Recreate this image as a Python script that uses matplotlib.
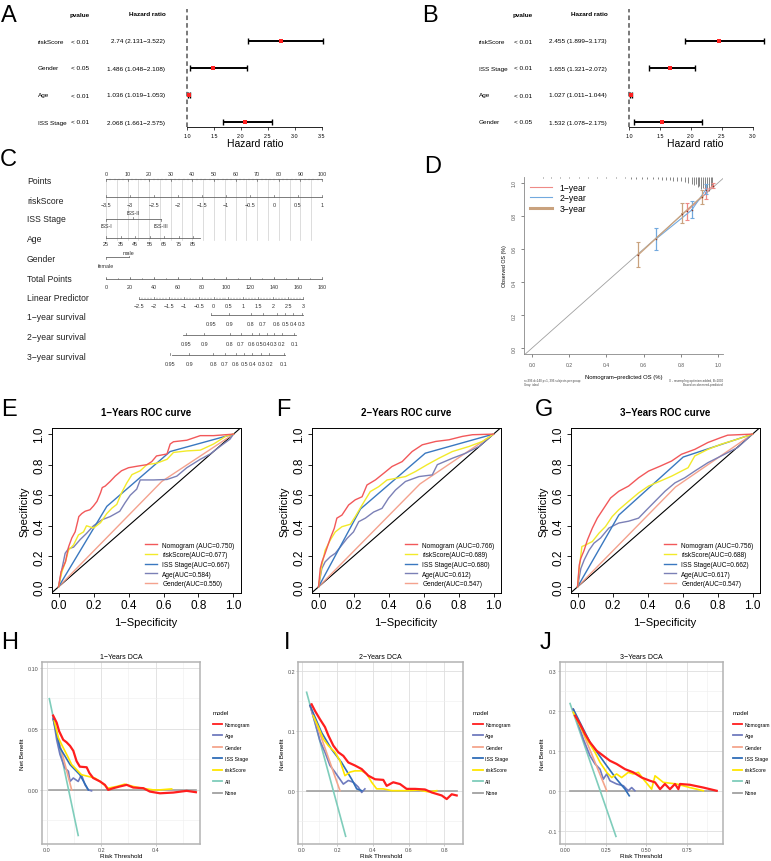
import matplotlib.pyplot as plt
from matplotlib.lines import Line2D
import numpy as np

plt.rcParams['font.family'] = ['Liberation Sans', 'DejaVu Sans']

W, H = 771, 862

# ---------------- data ----------------
# A / B : multivariate / univariate cox
a_vars = ['riskScore', 'Gender', 'Age', 'ISS Stage']
a_pval = ['< 0.01', '< 0.05', '< 0.01', '< 0.01']
a_hr = [2.74, 1.486, 1.036, 2.068]
a_lo = [2.131, 1.048, 1.019, 1.661]
a_hi = [3.522, 2.108, 1.053, 2.575]
a_ticks = [1.0, 1.5, 2.0, 2.5, 3.0, 3.5]

b_vars = ['riskScore', 'ISS Stage', 'Age', 'Gender']
b_pval = ['< 0.01', '< 0.01', '< 0.01', '< 0.05']
b_hr = [2.455, 1.655, 1.027, 1.532]
b_lo = [1.899, 1.321, 1.011, 1.078]
b_hi = [3.173, 2.072, 1.044, 2.175]
b_ticks = [1.0, 1.5, 2.0, 2.5, 3.0]

# C : nomogram (positions on the 0-100 points scale)
pts_ticks = [0, 10, 20, 30, 40, 50, 60, 70, 80, 90, 100]
risk_ticks = [-3.5, -3, -2.5, -2, -1.5, -1, -0.5, 0, 0.5, 1]
iss_levels = ['ISS-I', 'ISS-II', 'ISS-III']
iss_points = [0, 12.5, 25.5]
age_ticks = [25, 35, 45, 55, 65, 75, 85]
age_pts_per_year = 0.672
age_max_pts = 43.5
gender_levels = ['female', 'male']
gender_points = [0, 10.5]
total_ticks = [0, 20, 40, 60, 80, 100, 120, 140, 160, 180]
lp_ticks = [-2.5, -2, -1.5, -1, -0.5, 0, 0.5, 1, 1.5, 2, 2.5, 3]
lp_zero_pts = 15.3
lp_pts_per_unit = 13.8
surv1_vals = [0.95, 0.9, 0.8, 0.7, 0.6, 0.5, 0.4, 0.3]
surv1_pts = [48.5, 57.0, 67.0, 72.5, 79.0, 82.9, 86.7, 90.6]
surv2_vals = [0.95, 0.9, 0.8, 0.7, 0.6, 0.5, 0.4, 0.3, 0.2, 0.1]
surv2_pts = [37.0, 45.4, 57.4, 62.4, 67.4, 71.0, 74.4, 77.8, 81.3, 87.2]
surv3_vals = [0.95, 0.9, 0.8, 0.7, 0.6, 0.5, 0.4, 0.3, 0.2, 0.1]
surv3_pts = [29.6, 38.6, 49.7, 55.1, 60.2, 64.0, 67.7, 71.8, 75.6, 82.4]

# D : calibration
cal1_x = [0.836, 0.935, 0.971]
cal1_y = [0.832, 0.937, 0.984]
cal1_lo = [0.776, 0.902, 0.970]
cal1_hi = [0.877, 0.970, 1.000]
cal2_x = [0.667, 0.859, 0.935]
cal2_y = [0.661, 0.836, 0.960]
cal2_lo = [0.594, 0.790, 0.933]
cal2_hi = [0.725, 0.891, 0.994]
cal3_x = [0.571, 0.809, 0.912]
cal3_y = [0.564, 0.812, 0.917]
cal3_lo = [0.493, 0.757, 0.872]
cal3_hi = [0.640, 0.876, 0.958]
rug_x = [0.06, 0.10, 0.15, 0.20, 0.25, 0.30, 0.35, 0.40, 0.45, 0.50, 0.53, 0.56,
         0.59, 0.62, 0.65, 0.68, 0.70, 0.72, 0.74, 0.76, 0.78, 0.80, 0.82, 0.84,
         0.86, 0.87, 0.88, 0.89, 0.90, 0.91, 0.92, 0.93, 0.94, 0.95, 0.96, 0.97]
rug_h = [0.005, 0.005, 0.006, 0.005, 0.006, 0.006, 0.007, 0.006, 0.008, 0.008, 0.01, 0.01,
         0.012, 0.012, 0.015, 0.014, 0.018, 0.016, 0.02, 0.022, 0.025, 0.024, 0.03, 0.035,
         0.04, 0.05, 0.045, 0.06, 0.055, 0.07, 0.065, 0.08, 0.07, 0.085, 0.06, 0.05]

# E-G : ROC curves (fpr, tpr)
e_nomo = [(0, 0), (0.015, 0.1), (0.04, 0.165), (0.057, 0.26), (0.076, 0.32), (0.095, 0.36),
          (0.11, 0.43), (0.116, 0.46), (0.133, 0.48), (0.152, 0.495), (0.18, 0.505), (0.2, 0.53),
          (0.22, 0.56), (0.24, 0.615), (0.25, 0.65), (0.267, 0.66), (0.295, 0.69), (0.324, 0.725),
          (0.36, 0.76), (0.4, 0.78), (0.45, 0.79), (0.505, 0.8), (0.533, 0.82), (0.56, 0.857),
          (0.62, 0.87), (0.638, 0.935), (0.657, 0.95), (0.733, 0.96), (0.81, 0.99), (0.886, 0.99), (1, 1)]
e_risk = [(0, 0), (0.02, 0.1), (0.04, 0.165), (0.057, 0.24), (0.086, 0.275), (0.114, 0.34),
          (0.143, 0.36), (0.16, 0.4), (0.2, 0.385), (0.24, 0.42), (0.276, 0.48), (0.305, 0.515),
          (0.333, 0.54), (0.36, 0.615), (0.39, 0.68), (0.42, 0.735), (0.467, 0.76), (0.505, 0.8),
          (0.562, 0.81), (0.62, 0.835), (0.657, 0.88), (0.733, 0.89), (0.81, 0.895), (0.886, 0.935),
          (0.962, 0.99), (1, 1)]
e_iss = [(0, 0), (0.276, 0.527), (0.638, 0.886), (1, 1)]
e_age = [(0, 0), (0.02, 0.12), (0.038, 0.22), (0.057, 0.25), (0.086, 0.26), (0.124, 0.31),
         (0.16, 0.35), (0.2, 0.4), (0.25, 0.44), (0.295, 0.46), (0.35, 0.495), (0.38, 0.55),
         (0.41, 0.6), (0.447, 0.64), (0.467, 0.7), (0.543, 0.7), (0.62, 0.703), (0.676, 0.725),
         (0.733, 0.78), (0.81, 0.835), (0.867, 0.87), (0.924, 0.92), (0.98, 0.967), (1, 1)]
e_gender = [(0, 0), (0.59, 0.69), (1, 1)]
e_auc = ['0.750', '0.677', '0.667', '0.584', '0.550']

f_nomo = [(0, 0), (0.01, 0.12), (0.02, 0.165), (0.038, 0.22), (0.067, 0.317), (0.09, 0.383),
          (0.105, 0.45), (0.134, 0.47), (0.172, 0.536), (0.21, 0.57), (0.249, 0.59), (0.277, 0.667),
          (0.325, 0.7), (0.373, 0.744), (0.42, 0.788), (0.478, 0.82), (0.535, 0.886), (0.593, 0.93),
          (0.67, 0.952), (0.746, 0.963), (0.822, 0.985), (0.88, 0.996), (1, 1)]
f_risk = [(0, 0), (0.019, 0.142), (0.038, 0.24), (0.067, 0.306), (0.096, 0.36), (0.134, 0.394),
          (0.182, 0.41), (0.21, 0.46), (0.249, 0.536), (0.296, 0.624), (0.344, 0.656), (0.392, 0.7),
          (0.44, 0.71), (0.497, 0.722), (0.554, 0.755), (0.621, 0.8), (0.688, 0.842), (0.765, 0.886),
          (0.86, 0.919), (0.937, 0.952), (1, 1)]
f_iss = [(0, 0), (0.24, 0.51), (0.61, 0.875), (1, 1)]
f_age = [(0, 0), (0.019, 0.12), (0.038, 0.164), (0.067, 0.197), (0.096, 0.22), (0.124, 0.26),
         (0.163, 0.317), (0.2, 0.36), (0.23, 0.427), (0.268, 0.45), (0.315, 0.49), (0.363, 0.514),
         (0.4, 0.58), (0.44, 0.634), (0.497, 0.69), (0.574, 0.722), (0.65, 0.733), (0.679, 0.8),
         (0.765, 0.842), (0.841, 0.875), (0.918, 0.92), (1, 1)]
f_gender = [(0, 0), (0.58, 0.674), (1, 1)]
f_auc = ['0.766', '0.689', '0.680', '0.612', '0.547']

g_nomo = [(0, 0), (0.01, 0.143), (0.019, 0.187), (0.038, 0.24), (0.057, 0.308), (0.085, 0.385),
          (0.113, 0.45), (0.151, 0.516), (0.189, 0.582), (0.236, 0.626), (0.292, 0.66), (0.349, 0.714),
          (0.406, 0.758), (0.472, 0.79), (0.538, 0.824), (0.594, 0.868), (0.67, 0.9), (0.745, 0.945),
          (0.821, 0.978), (0.858, 0.993), (1, 1)]
g_risk = [(0, 0), (0.01, 0.12), (0.025, 0.264), (0.047, 0.275), (0.085, 0.297), (0.123, 0.352),
          (0.16, 0.395), (0.198, 0.46), (0.236, 0.505), (0.292, 0.56), (0.349, 0.615), (0.406, 0.66),
          (0.472, 0.692), (0.538, 0.725), (0.594, 0.758), (0.632, 0.78), (0.67, 0.857), (0.745, 0.9),
          (0.821, 0.934), (0.915, 0.967), (1, 1)]
g_iss = [(0, 0), (0.236, 0.47), (0.604, 0.85), (1, 1)]
g_age = [(0, 0), (0.019, 0.12), (0.038, 0.176), (0.066, 0.24), (0.094, 0.286), (0.132, 0.32),
         (0.179, 0.385), (0.236, 0.418), (0.292, 0.43), (0.349, 0.45), (0.387, 0.495), (0.443, 0.56),
         (0.5, 0.626), (0.557, 0.681), (0.613, 0.714), (0.67, 0.758), (0.745, 0.813), (0.821, 0.857),
         (0.915, 0.912), (1, 1)]
g_gender = [(0, 0), (0.56, 0.654), (1, 1)]
g_auc = ['0.756', '0.688', '0.662', '0.617', '0.547']

roc_names = ['Nomogram ', 'riskScore', 'ISS Stage', 'Age', 'Gender']
roc_colors = ['#F2585A', '#F2EA2A', '#3A78C0', '#7B80B6', '#F4A28E']

# H-J : decision curves (threshold, net benefit)
h_nomo = [(0.024, 0.0608), (0.037, 0.055), (0.046, 0.048), (0.061, 0.041), (0.073, 0.039),
          (0.086, 0.036), (0.098, 0.032), (0.11, 0.0235), (0.122, 0.019), (0.147, 0.0185),
          (0.157, 0.0138), (0.171, 0.0097), (0.196, 0.0069), (0.214, 0.0041), (0.226, 0.0),
          (0.245, 0.0014), (0.269, 0.0028), (0.294, 0.0041), (0.318, 0.0019), (0.355, 0.0014),
          (0.379, -0.0014), (0.416, -0.0028), (0.465, -0.0022), (0.514, -0.0008), (0.548, -0.0019)]
h_age = [(0.024, 0.0594), (0.037, 0.041), (0.049, 0.029), (0.067, 0.018), (0.08, 0.0152),
         (0.086, 0.0069), (0.098, 0.0097), (0.116, 0.0069), (0.128, 0.0124), (0.141, 0.0041),
         (0.153, 0.0), (0.165, -0.0008)]
h_gender = [(0.024, 0.058), (0.092, 0.0)]
h_iss = [(0.024, 0.058), (0.049, 0.0345), (0.086, 0.0207), (0.122, 0.0124), (0.153, 0.0)]
h_risk = [(0.028, 0.0566), (0.043, 0.0428), (0.061, 0.0345), (0.08, 0.0262), (0.092, 0.0207),
          (0.104, 0.018), (0.128, 0.0124), (0.153, 0.011), (0.177, 0.0097), (0.196, 0.0069),
          (0.226, 0.0014), (0.257, 0.0028), (0.287, 0.0047), (0.318, 0.0028), (0.349, 0.0014),
          (0.391, 0.0), (0.416, 0.0), (0.459, 0.0008)]
h_all = [(0.01, 0.0746), (0.116, -0.0373)]
h_none = [(0.01, 0.0), (0.548, 0.0)]

i_nomo = [(0.056, 0.144), (0.075, 0.133), (0.103, 0.119), (0.131, 0.106), (0.15, 0.092),
          (0.178, 0.075), (0.206, 0.064), (0.234, 0.058), (0.262, 0.047), (0.299, 0.042),
          (0.337, 0.036), (0.374, 0.025), (0.412, 0.019), (0.458, 0.018), (0.477, 0.008),
          (0.514, 0.014), (0.552, 0.011), (0.589, 0.003), (0.636, 0.003), (0.692, 0.002),
          (0.73, -0.003), (0.786, -0.008), (0.814, -0.014), (0.842, -0.006), (0.87, -0.008)]
i_age = [(0.047, 0.142), (0.075, 0.114), (0.103, 0.083), (0.131, 0.064), (0.159, 0.042),
         (0.187, 0.031), (0.215, 0.019), (0.234, 0.011), (0.262, 0.017), (0.29, 0.014),
         (0.318, 0.006), (0.337, -0.003), (0.355, 0.003)]
i_gender = [(0.047, 0.142), (0.215, 0.0)]
i_iss = [(0.047, 0.142), (0.112, 0.097), (0.168, 0.069), (0.224, 0.047), (0.281, 0.019),
         (0.309, 0.003), (0.337, 0.0)]
i_risk = [(0.065, 0.125), (0.094, 0.106), (0.122, 0.086), (0.15, 0.075), (0.187, 0.064),
          (0.215, 0.05), (0.243, 0.025), (0.271, 0.031), (0.299, 0.033), (0.337, 0.033),
          (0.365, 0.028), (0.393, 0.014), (0.421, 0.003), (0.458, 0.003), (0.505, 0.0),
          (0.58, 0.0), (0.655, 0.001), (0.711, -0.002), (0.758, 0.0)]
i_all = [(0.028, 0.164), (0.247, -0.076)]
i_none = [(0.028, 0.0), (0.87, 0.0)]

j_nomo = [(0.062, 0.1875), (0.092, 0.167), (0.123, 0.142), (0.154, 0.121), (0.195, 0.1),
          (0.236, 0.0875), (0.277, 0.075), (0.318, 0.067), (0.37, 0.054), (0.421, 0.046),
          (0.473, 0.033), (0.524, 0.025), (0.555, 0.021), (0.586, 0.004), (0.616, 0.017),
          (0.647, 0.004), (0.678, 0.017), (0.699, 0.004), (0.709, 0.017), (0.77, 0.015),
          (0.853, 0.008), (0.935, 0.0)]
j_age = [(0.051, 0.204), (0.113, 0.129), (0.154, 0.0875), (0.185, 0.067), (0.216, 0.054),
         (0.236, 0.029), (0.257, 0.042), (0.277, 0.025), (0.318, 0.017), (0.36, 0.0125),
         (0.39, 0.0), (0.411, 0.008), (0.431, 0.0)]
j_gender = [(0.051, 0.204), (0.257, 0.0)]
j_iss = [(0.051, 0.204), (0.154, 0.121), (0.257, 0.0625), (0.318, 0.029), (0.37, 0.004),
         (0.396, -0.0125)]
j_risk = [(0.051, 0.196), (0.092, 0.1625), (0.134, 0.129), (0.185, 0.096), (0.216, 0.071),
          (0.257, 0.046), (0.288, 0.033), (0.318, 0.042), (0.349, 0.033), (0.39, 0.046),
          (0.421, 0.042), (0.452, 0.046), (0.483, 0.029), (0.534, 0.004), (0.555, 0.0375),
          (0.606, 0.021), (0.688, 0.017), (0.77, 0.008), (0.853, 0.0)]
j_all = [(0.031, 0.218), (0.314, -0.114)]
j_none = [(0.031, 0.0), (0.935, 0.0)]

dca_names = ['Nomogram', 'Age', 'Gender', 'ISS Stage', 'riskScore', 'All', 'None']
dca_colors = ['#FF1E1E', '#6F7BBE', '#F4A58C', '#2F6DB8', '#FFE600', '#7FCDBB', '#A0A0A0']

# ---------------- figure ----------------
fig = plt.figure(figsize=(W / 100, H / 100), dpi=100)


def px_axes(l, t, r, b):
    return fig.add_axes([l / W, 1 - b / H, (r - l) / W, (b - t) / H])


def ftext(x, y, s, **kw):
    fig.text(x / W, 1 - y / H, s, **kw)


def minus(s):
    return s.replace('-', '\u2212')


# panel letters
for letter, x, y in [('A', 9, 16), ('B', 430, 16), ('C', 8, 160), ('D', 433, 167),
                     ('E', 9, 410), ('F', 283, 410), ('G', 544, 410),
                     ('H', 10, 643), ('I', 287, 643), ('J', 545, 643)]:
    ftext(x, y, letter, fontsize=17, ha='center', va='center')


def forest(box, xlim, ticks, names, pvals, hr, lo, hi, xs):
    ax = px_axes(*box)
    y = np.arange(len(names))
    hr = np.array(hr); lo = np.array(lo); hi = np.array(hi)
    ax.axvline(1, color='#555555', lw=1.1, ls=(0, (3, 2)))
    ax.errorbar(hr, y, xerr=[hr - lo, hi - hr], fmt='none', ecolor='black',
                elinewidth=1.4, capsize=2.5, capthick=1.0)
    ax.plot(hr, y, 's', color='#FF2020', ms=2.6, mew=0)
    ax.set_xlim(*xlim)
    ax.set_ylim(3.2, -1.2)
    for s in ['top', 'right', 'left']:
        ax.spines[s].set_visible(False)
    ax.spines['bottom'].set_bounds(ticks[0], ticks[-1])
    ax.spines['bottom'].set_linewidth(0.6)
    ax.set_yticks([])
    ax.set_xticks(ticks)
    ax.set_xticklabels(['%.1f' % t for t in ticks])
    ax.tick_params(axis='x', labelsize=3.9, length=2, width=0.5, pad=2)
    ax.set_xlabel('Hazard ratio', fontsize=7.5, labelpad=0.5)
    ax.patch.set_alpha(0)
    # text columns
    x_lab, x_p, x_hr = xs
    ftext(x_p - 1, 15, 'pvalue', fontsize=4.6, fontweight='bold', ha='left', va='center')
    ftext(x_hr + 1, 15, 'Hazard ratio', fontsize=4.6, fontweight='bold', ha='right', va='center')
    for i in range(len(names)):
        yy = 42 + 27 * i
        ftext(x_lab, yy, names[i], fontsize=4.6, ha='left', va='center')
        ftext(x_p, yy, pvals[i], fontsize=4.6, ha='left', va='center')
        ftext(x_hr, yy, '%s (%s\u2212%s)' % (hr[i], lo[i], hi[i]), fontsize=4.6,
              ha='right', va='center')


forest((180, 10, 330, 128), (1 - 7 / 54, 3.5 + 8 / 54), a_ticks, a_vars, a_pval,
       a_hr, a_lo, a_hi, (38, 71, 165))
forest((620, 10, 770, 128), (1 - 9 / 62, 3.0 + 17 / 62), b_ticks, b_vars, b_pval,
       b_hr, b_lo, b_hi, (479, 514, 607))

# ---------------- C nomogram ----------------
axc = px_axes(106, 150, 322, 372)
axc.set_xlim(0, 100)
axc.set_ylim(372, 150)
axc.axis('off')
lc = '#666666'
fs_t = 3.9


def nomo_scale(y, pos, labels, lab_dy=6, tick_up=True, x0=None, x1=None):
    a = min(pos) if x0 is None else x0
    b = max(pos) if x1 is None else x1
    axc.plot([a, b], [y, y], color=lc, lw=0.6, clip_on=False)
    for p, l in zip(pos, labels):
        axc.plot([p, p], [y, y - 1.8 if tick_up else y + 1.8], color=lc, lw=0.5, clip_on=False)
        axc.text(p, y + lab_dy, l, fontsize=fs_t, ha='center', va='center', color='#333333')


row_names = ['Points', 'riskScore', 'ISS Stage', 'Age', 'Gender', 'Total Points',
             'Linear Predictor', '1\u2212year survival', '2\u2212year survival', '3\u2212year survival']
row_y = [181, 201, 220, 239, 259, 279, 299, 318, 338, 358]
for name, yy in zip(row_names, row_y):
    ftext(27, yy, name, fontsize=6.2, ha='left', va='center', color='#222222')

# vertical reference lines
for p in np.arange(0, 100.1, 5):
    axc.plot([p, p], [180, 241], color='#CFCFCF', lw=0.5, zorder=0)

nomo_scale(180, pts_ticks, [str(t) for t in pts_ticks], lab_dy=-6, tick_up=False)
for p in range(0, 101, 2):
    axc.plot([p, p], [180, 181.2], color=lc, lw=0.3)
nomo_scale(198, [(v + 3.5) / 4.5 * 100 for v in risk_ticks],
           [minus('%g' % v) for v in risk_ticks], lab_dy=7)
# ISS stage
axc.plot([iss_points[0], iss_points[-1]], [220, 220], color=lc, lw=0.6)
for k, (lev, p) in enumerate(zip(iss_levels, iss_points)):
    up = (k == 1)
    axc.plot([p, p], [220, 218 if up else 222], color=lc, lw=0.5)
    axc.text(p, 213.5 if up else 226.5, lev, fontsize=fs_t, ha='center', va='center', color='#333333')
# Age
age_pos = [(a - age_ticks[0]) * age_pts_per_year for a in age_ticks]
nomo_scale(239, age_pos, [str(a) for a in age_ticks], lab_dy=5.5, x1=age_max_pts)
# Gender
axc.plot([gender_points[0], gender_points[1]], [258, 258], color=lc, lw=0.6)
axc.plot([gender_points[1], gender_points[1]], [258, 256.5], color=lc, lw=0.5)
axc.plot([gender_points[0], gender_points[0]], [258, 259.5], color=lc, lw=0.5)
axc.text(gender_points[1], 253.5, gender_levels[1], fontsize=fs_t, ha='center', va='center', color='#333333')
axc.text(gender_points[0], 266, gender_levels[0], fontsize=fs_t, ha='center', va='center', color='#333333')
# Total points
nomo_scale(280, [t / 1.8 for t in total_ticks], [str(t) for t in total_ticks], lab_dy=7)
for t in range(0, 181, 10):
    axc.plot([t / 1.8, t / 1.8], [280, 278.8], color=lc, lw=0.4)
# Linear predictor
lp_pos = [lp_zero_pts + (v - lp_ticks[0]) * lp_pts_per_unit for v in lp_ticks]
nomo_scale(300, lp_pos, [minus('%g' % v) for v in lp_ticks], lab_dy=6.5)
for k in range(len(lp_pos) - 1):
    for f in (0.2, 0.4, 0.6, 0.8):
        p = lp_pos[k] + f * (lp_pos[k + 1] - lp_pos[k])
        axc.plot([p, p], [300, 299], color=lc, lw=0.35)
# survival
nomo_scale(316, surv1_pts, ['%g' % v for v in surv1_vals], lab_dy=8, x1=91.2)
nomo_scale(336, surv2_pts, ['%g' % v for v in surv2_vals], lab_dy=8, x0=35.5, x1=88)
nomo_scale(356, surv3_pts, ['%g' % v for v in surv3_vals], lab_dy=8, x0=30.4, x1=82.9)

# ---------------- D calibration ----------------
axd = px_axes(524, 178, 723, 355)
axd.set_xlim(-0.0432, 1.027)
axd.set_ylim(-0.036, 1.036)
axd.axline((0, 0), (1, 1), color='#A0A0A0', lw=0.6)
axd.vlines(rug_x, 1.036 - np.array(rug_h), 1.036, color='#555555', lw=0.5, clip_on=False)
cal_cols = ['#EE8A86', '#72A9DE', '#C9A27E']
for cx, cy, clo, chi, col, lw in [(cal1_x, cal1_y, cal1_lo, cal1_hi, cal_cols[0], 0.8),
                                  (cal2_x, cal2_y, cal2_lo, cal2_hi, cal_cols[1], 0.8),
                                  (cal3_x, cal3_y, cal3_lo, cal3_hi, cal_cols[2], 0.9)]:
    cy_ = np.array(cy)
    axd.plot(cx, cy, color=col, lw=lw)
    axd.errorbar(cx, cy, yerr=[cy_ - np.array(clo), np.array(chi) - cy_], fmt='none',
                 ecolor=col, elinewidth=0.9, capsize=1.6, capthick=0.8)
    axd.plot(cx, cy, 's', color=col, ms=2, mew=0)
    axd.plot(cx, cy, 's', color='#8B3A2A', ms=1.0, mew=0)
for s in ['top', 'right']:
    axd.spines[s].set_visible(False)
for s in ['left', 'bottom']:
    axd.spines[s].set_color('#888888')
    axd.spines[s].set_linewidth(0.6)
ticks01 = [0.0, 0.2, 0.4, 0.6, 0.8, 1.0]
axd.set_xticks(ticks01)
axd.set_xticklabels(['%.1f' % t for t in ticks01])
axd.set_yticks(ticks01)
axd.set_yticklabels(['%.1f' % t for t in ticks01], rotation=90, va='center')
axd.tick_params(labelsize=3.6, length=2, width=0.5, colors='#555555', pad=3.5)
axd.set_ylabel('Observed OS (%)', fontsize=3.8, labelpad=3)
axd.set_xlabel('Nomogram\u2212predicted OS (%)', fontsize=4.2, labelpad=5)
axd.legend(handles=[Line2D([], [], color=cal_cols[0], lw=0.8),
                    Line2D([], [], color=cal_cols[1], lw=0.8),
                    Line2D([], [], color=cal_cols[2], lw=2.2)],
           labels=['1\u2212year', '2\u2212year', '3\u2212year'], loc='upper left',
           bbox_to_anchor=(0.0, 1.0), frameon=False, fontsize=6.2, handlelength=2.6,
           labelspacing=0.15, borderaxespad=0.3)
ftext(524, 383, 'n=396 d=140 p=1, 396 subjects per group\nGray: ideal', fontsize=2.2,
      ha='left', va='center', color='#444444', linespacing=1.1)
ftext(723, 383, 'X - resampling optimism added, B=1000\nBased on observed-predicted', fontsize=2.2,
      ha='right', va='center', color='#444444', linespacing=1.1)


# ---------------- E-G ROC ----------------
def roc_panel(box, title, curves, aucs):
    ax = px_axes(*box)
    ax.set_xlim(-0.04, 1.04)
    ax.set_ylim(-0.04, 1.04)
    ax.axline((0, 0), (1, 1), color='black', lw=0.8, zorder=1)
    for pts, col in zip(curves[::-1], roc_colors[::-1]):
        p = np.array(pts)
        ax.plot(p[:, 0], p[:, 1], color=col, lw=1.0, zorder=2)
    handles = [Line2D([], [], color=col, lw=1.0) for col in roc_colors]
    labels = ['%s(AUC=%s)' % (n, a) for n, a in zip(roc_names, aucs)]
    ax.legend(handles, labels, loc='lower right', frameon=False, fontsize=4.7,
              handlelength=1.9, labelspacing=0.4, borderaxespad=0.5, handletextpad=0.8)
    ax.set_xticks(ticks01)
    ax.set_xticklabels(['%.1f' % t for t in ticks01])
    ax.set_yticks(ticks01)
    ax.set_yticklabels(['%.1f' % t for t in ticks01], rotation=90, va='center')
    ax.tick_params(labelsize=8.5, length=3, width=0.6, pad=1.5)
    for s in ax.spines.values():
        s.set_linewidth(0.7)
    ax.set_title(title, fontsize=7, fontweight='bold', pad=9)
    ax.set_xlabel('1\u2212Specificity', fontsize=8, labelpad=4)
    ax.set_ylabel('Specificity', fontsize=8, labelpad=3)


roc_panel((51.5, 429, 240.5, 594), '1\u2212Years ROC curve', [e_nomo, e_risk, e_iss, e_age, e_gender], e_auc)
roc_panel((311.5, 429, 500.5, 594), '2\u2212Years ROC curve', [f_nomo, f_risk, f_iss, f_age, f_gender], f_auc)
roc_panel((570.5, 429, 759.5, 594), '3\u2212Years ROC curve', [g_nomo, g_risk, g_iss, g_age, g_gender], g_auc)


# ---------------- H-J DCA ----------------
def dca_panel(box, title, curves, xlim, ylim, xticks, xminor, yticks, yminor, xfmt, yfmt, leg_gap):
    ax = px_axes(*box)
    ax.set_xlim(*xlim)
    ax.set_ylim(*ylim)
    ax.set_axisbelow(True)
    ax.set_xticks(xticks)
    ax.set_xticks(xminor, minor=True)
    ax.set_yticks(yticks)
    ax.set_yticks(yminor, minor=True)
    ax.set_xticklabels([xfmt % t for t in xticks])
    ax.set_yticklabels([yfmt % t for t in yticks])
    ax.grid(which='major', color='#DEDEDE', lw=0.6)
    ax.grid(which='minor', color='#EEEEEE', lw=0.4)
    ax.tick_params(which='major', labelsize=3.9, length=1.5, width=0.5, colors='#B3B3B3',
                   labelcolor='#4D4D4D', pad=0.8)
    ax.tick_params(which='minor', length=0)
    for s in ax.spines.values():
        s.set_color('#B3B3B3')
        s.set_linewidth(1.1)
    order = [6, 5, 1, 2, 3, 4, 0]
    for k in order:
        p = np.array(curves[k])
        ax.plot(p[:, 0], p[:, 1], color=dca_colors[k], lw=1.6 if k == 0 else 1.2,
                solid_joinstyle='round')
    handles = [Line2D([], [], color=c, lw=1.3) for c in dca_colors]
    width = box[2] - box[0]
    leg = ax.legend(handles, dca_names, loc='center left',
                    bbox_to_anchor=(1 + leg_gap / width, 0.5), borderaxespad=0,
                    frameon=False, fontsize=3.7, title='model', title_fontsize=4.3,
                    handlelength=1.9, labelspacing=1.25, handletextpad=0.5, borderpad=0)
    leg._legend_box.align = 'left'
    ax.set_title(title, fontsize=5, pad=3)
    ax.set_xlabel('Risk Threshold', fontsize=4.6, labelpad=0.5)
    ax.set_ylabel('Net Benefit', fontsize=4.6, labelpad=2)


dca_panel((41.7, 662.7, 200, 845), '1\u2212Years DCA',
          [h_nomo, h_age, h_gender, h_iss, h_risk, h_all, h_none],
          (-0.018, 0.563), (-0.0443, 0.1049), [0.0, 0.2, 0.4], [0.1, 0.3, 0.5],
          [0.0, 0.05, 0.10], [-0.025, 0.025, 0.075], '%.1f', '%.2f', 12.7)
dca_panel((298.3, 662.7, 463.3, 845), '2\u2212Years DCA',
          [i_nomo, i_age, i_gender, i_iss, i_risk, i_all, i_none],
          (-0.0187, 0.907), (-0.0889, 0.215), [0.0, 0.2, 0.4, 0.6, 0.8], [0.1, 0.3, 0.5, 0.7],
          [0.0, 0.1, 0.2], [-0.05, 0.05, 0.15], '%.1f', '%.1f', 9.7)
dca_panel((560, 662.7, 723.3, 845), '3\u2212Years DCA',
          [j_nomo, j_age, j_gender, j_iss, j_risk, j_all, j_none],
          (-0.031, 0.976), (-0.133, 0.3225), [0.0, 0.25, 0.5, 0.75], [0.125, 0.375, 0.625, 0.875],
          [-0.1, 0.0, 0.1, 0.2, 0.3], [-0.05, 0.05, 0.15, 0.25], '%.2f', '%.1f', 9.4)

fig.savefig('out.png', dpi=100)
